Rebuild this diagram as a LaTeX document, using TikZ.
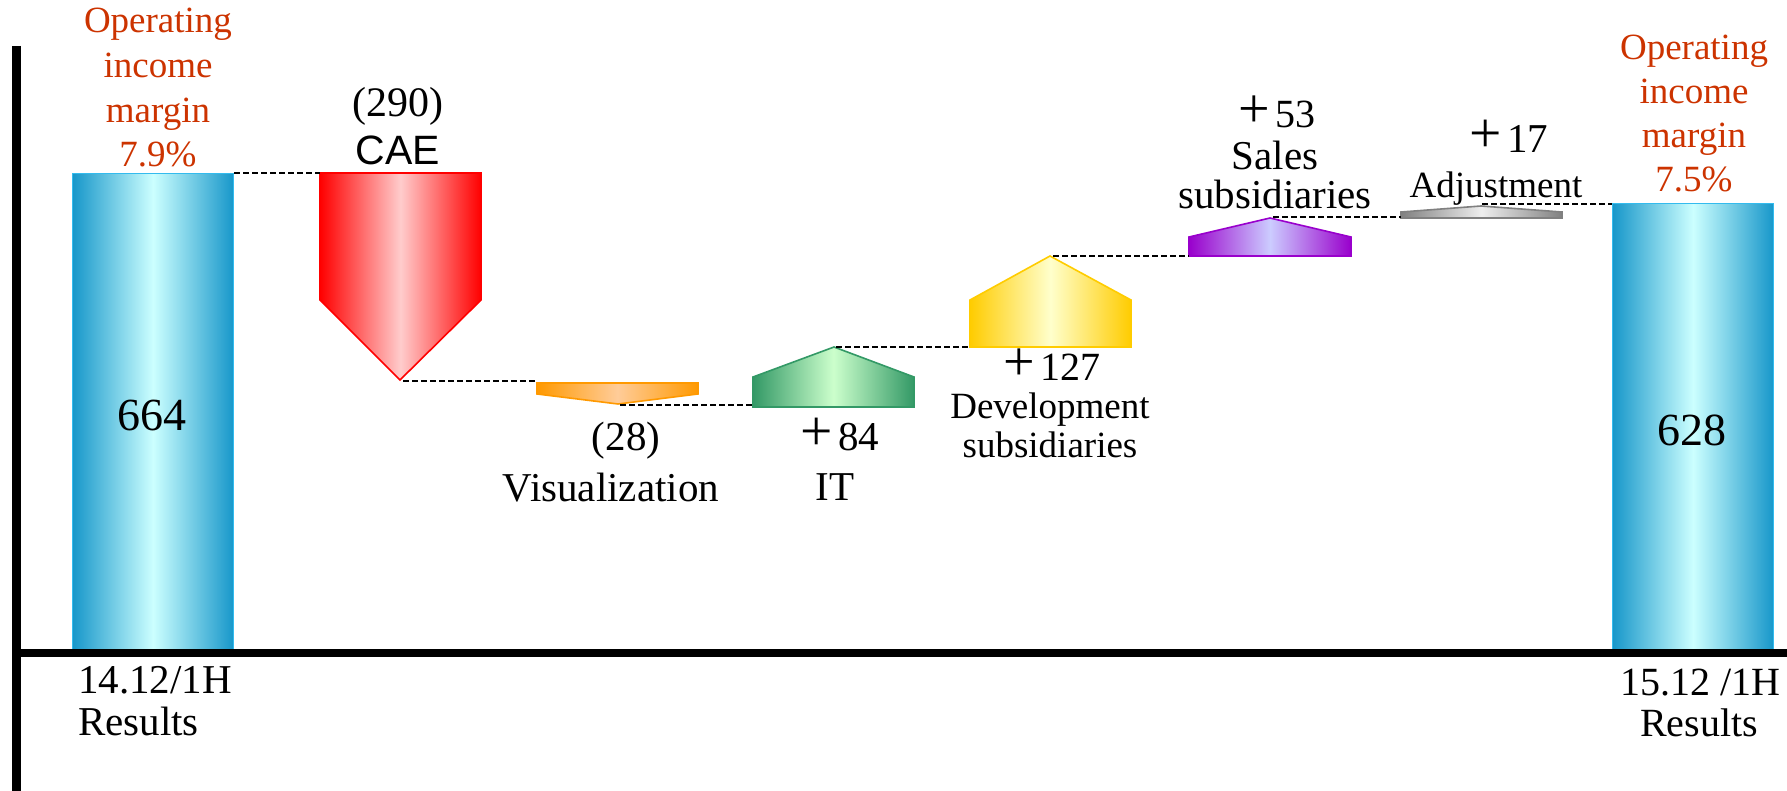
\documentclass[tikz,border=0pt]{standalone}
\usepackage{fontspec}
\usepackage{graphicx}
\setmainfont{Liberation Serif}
\newfontfamily\sansf{Liberation Sans}
\definecolor{oimc}{HTML}{CC3300}
\definecolor{bared}{HTML}{1797CA}
\definecolor{barmid}{HTML}{CCFFFF}
\definecolor{barline}{HTML}{33BBEE}
\definecolor{caec}{HTML}{FF0000}
\definecolor{caem}{HTML}{FFCCCC}
\definecolor{visc}{HTML}{FF9900}
\definecolor{vism}{HTML}{FFCC99}
\definecolor{itc}{HTML}{339966}
\definecolor{itm}{HTML}{CCFFCC}
\definecolor{devc}{HTML}{FFCC00}
\definecolor{devm}{HTML}{FFFFCC}
\definecolor{salc}{HTML}{9900CC}
\definecolor{salm}{HTML}{CCCCFF}
\definecolor{adjc}{HTML}{808080}
\definecolor{adjm}{HTML}{EEEEEE}
\newcommand\fs[1]{\fontsize{#1}{#1}\selectfont}
\newcommand\plussign{\scalebox{1.4}{+}\kern0.12em}
\begin{document}
\begin{tikzpicture}[x=1pt,y=-1pt,
 txt/.style={anchor=base, inner sep=0pt, font={\fs{41}}},
 oim/.style={anchor=base, inner sep=0pt, font={\fs{37}}, text=oimc},
 dashln/.style={draw=black, line width=1.6pt, dash pattern=on 6pt off 3pt},
 barbox/.style={draw=barline, line width=1.2pt, left color=bared, right color=bared, middle color=barmid, minimum width=161pt, inner sep=0pt, anchor=north west},
 arrowshape/.style 2 args={draw=#1, line width=1.6pt, line join=miter, left color=#1, right color=#1, middle color=#2}
]
\useasboundingbox (0,0) rectangle (1787,791);

% bars
\node[barbox, minimum height=476pt] (lbar) at (72,173) {};
\node[barbox, minimum height=446pt] (rbar) at (1612,203) {};

% CAE shape
\coordinate (cae-tl) at (320,173);
\coordinate (cae-tr) at (481,173);
\coordinate (cae-tip) at (400,380);
\path[arrowshape={caec}{caem}] (cae-tl) -- (cae-tr) -- (481,300) -- (cae-tip) -- (320,300) -- cycle;
% Visualization shape
\coordinate (vis-tl) at (537,383);
\coordinate (vis-tip) at (618,404);
\path[arrowshape={visc}{vism}] (vis-tl) -- (698,383) -- (698,394) -- (vis-tip) -- (537,394) -- cycle;
% IT shape
\coordinate (it-bl) at (753,407);
\coordinate (it-tip) at (834,347);
\path[arrowshape={itc}{itm}] (it-bl) -- (914,407) -- (914,377) -- (it-tip) -- (753,377) -- cycle;
% Development shape
\coordinate (dev-bl) at (970,347);
\coordinate (dev-tip) at (1050,256);
\path[arrowshape={devc}{devm}] (dev-bl) -- (1131,347) -- (1131,300) -- (dev-tip) -- (970,300) -- cycle;
% Sales shape
\coordinate (sal-bl) at (1189,256);
\coordinate (sal-tip) at (1270,218);
\path[arrowshape={salc}{salm}] (sal-bl) -- (1351,256) -- (1351,237) -- (sal-tip) -- (1189,237) -- cycle;
% Adjustment shape
\coordinate (adj-bl) at (1401,218);
\coordinate (adj-tip) at (1481,206);
\path[arrowshape={adjc}{adjm}] (adj-bl) -- (1562,218) -- (1562,212) -- (adj-tip) -- (1401,212) -- cycle;

% dashed connectors (horizontal)
\draw[dashln] (lbar.north east) -- (lbar.north east -| cae-tl);
\draw[dashln] ([xshift=3pt,yshift=-1pt]cae-tip) -- ([yshift=-1pt]cae-tip -| vis-tl);
\draw[dashln] ([xshift=2pt,yshift=-1pt]vis-tip) -- ([yshift=-1pt]vis-tip -| it-bl);
\draw[dashln] ([xshift=2pt]it-tip) -- (it-tip -| dev-bl);
\draw[dashln] ([xshift=3pt]dev-tip) -- (dev-tip -| sal-bl);
\draw[dashln] ([xshift=3pt,yshift=1pt]sal-tip) -- ([yshift=1pt]sal-tip -| adj-bl);
\draw[dashln] ([xshift=1pt,yshift=2pt]adj-tip) -- ([yshift=2pt]adj-tip -| rbar.north west);

% axes
\draw[line width=9pt] (16.5,46) -- (16.5,791);
\draw[line width=8pt] (12,653) -- (1787,653);

% left margin text
\node[oim] (l1) at (158,33) {Operating};
\node[oim] (l2) at (158,78) {income};
\node[oim] (l3) at (158,123) {margin};
\node[oim] (l4) at (158,167) {7.9\%};
% right margin text
\node[oim] (r1) at (1694,60) {Operating};
\node[oim] (r2) at (1694,104) {income};
\node[oim] (r3) at (1694,148) {margin};
\node[oim] (r4) at (1694,192) {7.5\%};

% bar values
\node[txt, font={\fs{46}}] (v1) at (152,430) {664};
\node[txt, font={\fs{46}}] (v2) at (1692,445) {628};

% step labels
\node[txt, font={\fs{42}}] (t290) at (398,117) {(290)};
\node[txt, font={\sansf\fs{41}}] (tcae) at (398,165) {CAE};
\node[txt] (t28) at (626,450) {(28)};
\node[txt] (tvis) at (611,501) {Visualization};
\node[txt] (t84) at (840,450) {\plussign 84};
\node[txt] (tit) at (835,500) {IT};
\node[txt, font={\fs{40}}] (t127) at (1052,380) {\plussign 127};
\node[txt, font={\fs{37}}] (tdev1) at (1050,418) {Development};
\node[txt, font={\fs{37}}] (tdev2) at (1050,457) {subsidiaries};
\node[txt, font={\fs{40}}] (t53) at (1277,128) {\plussign 53};
\node[txt] (tsal1) at (1275,170) {Sales};
\node[txt] (tsal2) at (1275,209) {subsidiaries};
\node[txt] (t17) at (1509,153) {\plussign 17};
\node[txt, font={\fs{37}}] (tadj) at (1496,198) {Adjustment};

% period labels
\node[txt, anchor=base west, font={\fs{41}}, text depth=0pt] (p1a) at (78,693) {14.12/1H};
\node[txt, anchor=base west, font={\fs{41}}] (p1b) at (78,735) {Results};
\node[txt, font={\fs{40}}, text depth=0pt] (p2a) at (1700,695) {15.12 /1H};
\node[txt, font={\fs{40}}] (p2b) at (1699,736) {Results};
\end{tikzpicture}
\end{document}
